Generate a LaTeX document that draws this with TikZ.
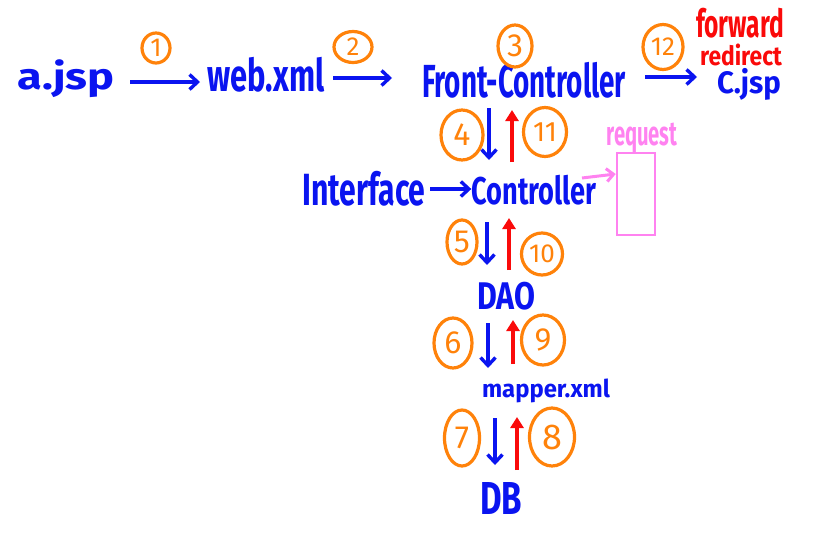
\documentclass[tikz,border=0pt]{standalone}
\usepackage{fontspec}
\setmainfont{Fira Sans}
\usepackage{graphicx}
\usetikzlibrary{arrows.meta,shapes.geometric}
\definecolor{pblue}{RGB}{10,20,240}
\definecolor{porange}{RGB}{255,130,10}
\definecolor{pred}{RGB}{250,10,10}
\definecolor{ppink}{RGB}{255,130,240}
\newcommand{\fitlbl}[3]{\resizebox*{#1pt}{#2pt}{\bfseries #3}}
\tikzset{
  lbl/.style={text=pblue, inner sep=0pt, font=\fontsize{26}{26}\selectfont},
  redlbl/.style={text=pred, inner sep=0pt, font=\fontsize{20}{20}\selectfont},
  num/.style 2 args={ellipse, draw=porange, line width=3.2pt, text=porange, inner sep=0pt,
    minimum width=#1pt, minimum height=#2pt, font=\fontsize{32}{32}\selectfont},
  barr/.style={draw=pblue, line width=3.6pt, -{Straight Barb[length=8pt,width=15pt,line width=3.4pt]}},
  rarr/.style={draw=pred, line width=3.4pt, -{Triangle[length=11pt,width=13pt]}},
  parr/.style={draw=ppink, line width=3pt, -{Straight Barb[length=7pt,width=13pt,line width=3pt]}},
}
\begin{document}
\begin{tikzpicture}[x=1pt,y=-1pt]
\useasboundingbox (0,0) rectangle (832,544);
% top row
\node[lbl] (ajsp) at (66,79) {\fitlbl{97}{38}{a.jsp}};
\node[lbl] (web) at (266,75) {\fitlbl{117}{35}{web.xml}};
\node[lbl] (front) at (524,80) {\fitlbl{204}{36}{Front-Controller}};
\node[lbl] (cjsp) at (749,84) {\fitlbl{64}{32}{C.jsp}};
\node[redlbl] (fw) at (740,23) {\fitlbl{88}{30}{forward}};
\node[redlbl] (rd) at (741,55) {\fitlbl{82}{22}{redirect}};
\coordinate (a1s) at (130,82); \coordinate (a1e) at (200,82);
\coordinate (a2s) at (333,78); \coordinate (a2e) at (392,78);
\coordinate (a12s) at (645,77); \coordinate (a12e) at (697,77);
\draw[barr] (a1s) -- (a1e);
\draw[barr] (a2s) -- (a2e);
\draw[barr] (a12s) -- (a12e);
\node[num={28}{30}, font=\fontsize{26}{26}\selectfont] (n1) at (156,48) {1};
\node[num={38}{31}, font=\fontsize{26}{26}\selectfont] (n2) at (353,47) {2};
\node[num={34}{42}] (n3) at (515,46) {3};
\node[num={40}{45}, font=\fontsize{26}{26}\selectfont] (n12) at (663,47) {12};
% middle
\node[lbl] (iface) at (364,189) {\fitlbl{123}{35}{Interface}};
\node[lbl] (ctrl) at (534,190) {\fitlbl{125}{30}{Controller}};
\draw[barr] (430,189) -- (iface.east -| ctrl.west);
\coordinate (a4s) at (489,108); \coordinate (a4e) at (489,160);
\draw[barr] (a4s) -- (a4e);
\draw[rarr] (512,162) -- (512,110);
\node[num={42}{50}] (n4) at (462,135) {4};
\node[num={43}{49}, font=\fontsize{28}{28}\selectfont] (n11) at (545,132) {11};
% request
\node[draw=ppink, line width=2.6pt, minimum width=38pt, minimum height=82pt, inner sep=0pt] (req) at (636,194) {};
\node[text=ppink, inner sep=0pt] (reqt) at (642,138) {\fitlbl{71}{30}{request}};
\draw[parr] (582,178) -- (req.west |- 0,174);
% DAO
\draw[barr] (487,222) -- (487,265);
\draw[rarr] (509,270) -- (509,218);
\node[num={30}{44}] (n5) at (462,242) {5};
\node[num={41}{42}, font=\fontsize{26}{26}\selectfont] (n10) at (542,254) {10};
\node[lbl] (dao) at (506,296) {\fitlbl{58}{28}{DAO}};
% mapper
\draw[barr] (488,323) -- (488,368);
\draw[rarr] (513,364) -- (513,320);
\node[num={38}{50}] (n6) at (453,343) {6};
\node[num={43}{50}] (n9) at (543,340) {9};
\node[lbl] (mapper) at (546,391) {\fitlbl{128}{24}{mapper.xml}};
% DB
\draw[barr] (495,418) -- (495,465);
\draw[rarr] (517,470) -- (517,417);
\node[num={35}{56}] (n7) at (462,438) {7};
\node[num={45}{58}, font=\fontsize{36}{36}\selectfont] (n8) at (552,437) {8};
\node[lbl] (db) at (501,498) {\fitlbl{42}{32}{DB}};
\end{tikzpicture}
\end{document}
